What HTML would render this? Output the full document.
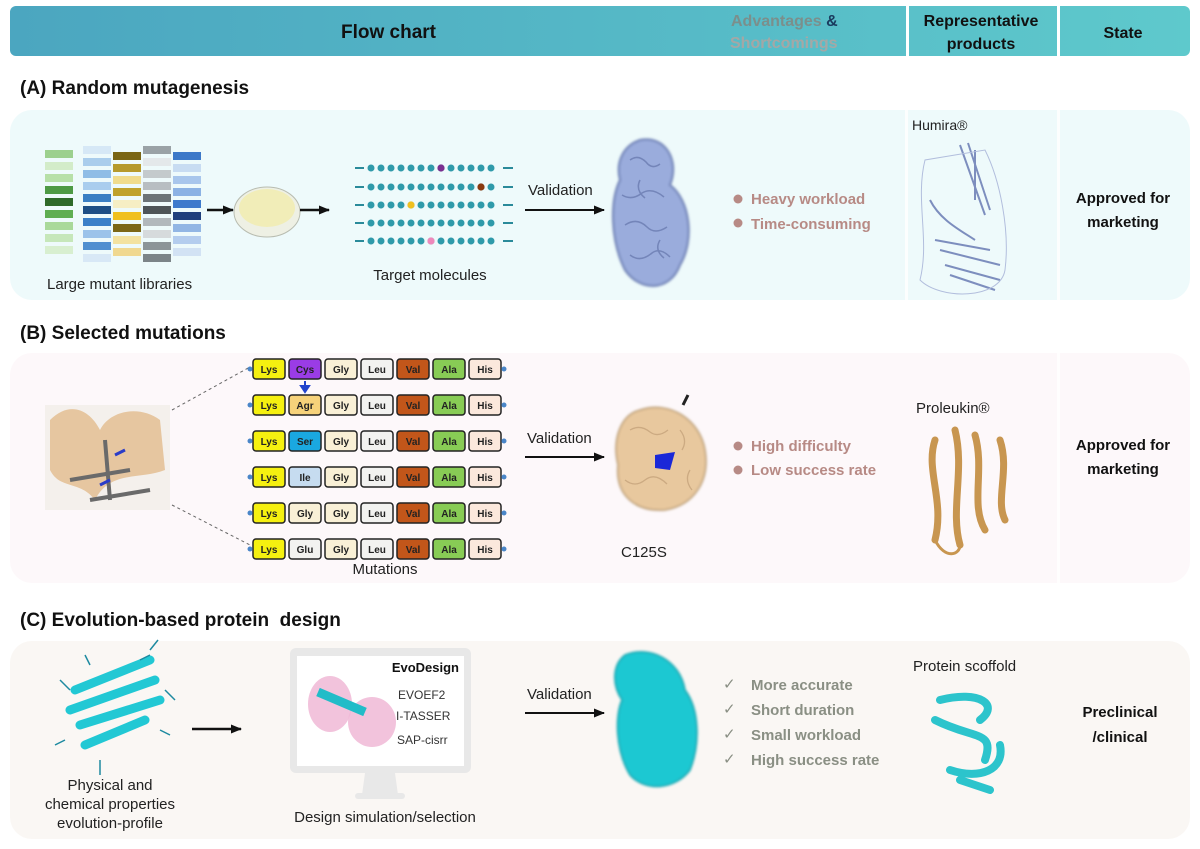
<!DOCTYPE html>
<html><head><meta charset="utf-8"><style>
html,body{margin:0;padding:0;background:#fff;width:1200px;height:849px;overflow:hidden}
svg text{font-family:"Liberation Sans",Arial,sans-serif}
</style></head><body>
<svg width="1200" height="849" viewBox="0 0 1200 849" xmlns="http://www.w3.org/2000/svg">
<defs>
<linearGradient id="hg" x1="0" x2="1"><stop offset="0" stop-color="#4ba6c0"/><stop offset="1" stop-color="#5ec9cc"/></linearGradient>
<filter id="bl"><feGaussianBlur stdDeviation="1.2"/></filter>
<marker id="ar" markerUnits="userSpaceOnUse" markerWidth="12" markerHeight="12" refX="10" refY="6" orient="auto"><path d="M0,1.5 L11,6 L0,10.5 z" fill="#111"/></marker>
<g id="dr" fill="#2f9aaa"><rect x="355" y="-1" width="9" height="2" fill="#2a8a9a"/><circle cx="371" cy="0" r="3.5"/><circle cx="381" cy="0" r="3.5"/><circle cx="391" cy="0" r="3.5"/><circle cx="401" cy="0" r="3.5"/><circle cx="411" cy="0" r="3.5"/><circle cx="421" cy="0" r="3.5"/><circle cx="431" cy="0" r="3.5"/><circle cx="441" cy="0" r="3.5"/><circle cx="451" cy="0" r="3.5"/><circle cx="461" cy="0" r="3.5"/><circle cx="471" cy="0" r="3.5"/><circle cx="481" cy="0" r="3.5"/><circle cx="491" cy="0" r="3.5"/><rect x="503" y="-1" width="10" height="2" fill="#2a8a9a"/></g>
<g id="sq" font-size="10" font-weight="bold" text-anchor="middle" stroke="#222" stroke-width="1.5">
<rect x="253" y="0" width="32" height="20" rx="3" fill="#f5f010"/>
<rect x="325" y="0" width="32" height="20" rx="3" fill="#f9f0d6"/>
<rect x="361" y="0" width="32" height="20" rx="3" fill="#f2f2f0"/>
<rect x="397" y="0" width="32" height="20" rx="3" fill="#c2561a"/>
<rect x="433" y="0" width="32" height="20" rx="3" fill="#88cc55"/>
<rect x="469" y="0" width="32" height="20" rx="3" fill="#fbe8dc"/>
<g stroke="none" fill="#222"><text x="269" y="14">Lys</text><text x="341" y="14">Gly</text><text x="377" y="14">Leu</text><text x="413" y="14">Val</text><text x="449" y="14">Ala</text><text x="485" y="14">His</text></g>
<circle cx="250" cy="10" r="2.5" fill="#4a86c8" stroke="none"/><circle cx="504" cy="10" r="2.5" fill="#4a86c8" stroke="none"/>
</g>
</defs>
<!-- header -->
<rect x="10" y="6" width="1180" height="50" rx="6" fill="url(#hg)"/>
<rect x="906" y="6" width="3" height="50" fill="#fff"/>
<rect x="1057" y="6" width="3" height="50" fill="#fff"/>
<text x="341" y="38" font-size="19" font-weight="bold" fill="#111">Flow chart</text>
<text x="731" y="26" font-size="16" font-weight="bold" fill="#7b8f8c">Advantages <tspan fill="#1a3b5e">&amp;</tspan></text>
<text x="730" y="48" font-size="16" font-weight="bold" fill="#d89a90" opacity="0.6">Shortcomings</text>
<text x="981" y="26" font-size="16" font-weight="bold" fill="#111" text-anchor="middle">Representative</text>
<text x="981" y="49" font-size="16" font-weight="bold" fill="#111" text-anchor="middle">products</text>
<text x="1123" y="38" font-size="16" font-weight="bold" fill="#111" text-anchor="middle">State</text>

<!-- Panel A -->
<text x="20" y="94" font-size="19" font-weight="bold" fill="#111">(A) Random mutagenesis</text>
<rect x="10" y="110" width="1180" height="190" rx="22" fill="#eefafb"/>
<rect x="905" y="110" width="3" height="190" fill="#fff" opacity="0.8"/>
<rect x="1057" y="110" width="3" height="190" fill="#fff" opacity="0.8"/>
<g>
<rect x="45" y="150" width="28" height="8" fill="#9cd08e"/><rect x="45" y="162" width="28" height="8" fill="#d3ecc9"/><rect x="45" y="174" width="28" height="8" fill="#b7e0a8"/><rect x="45" y="186" width="28" height="8" fill="#4e9a45"/><rect x="45" y="198" width="28" height="8" fill="#2f6a2a"/><rect x="45" y="210" width="28" height="8" fill="#5fae52"/><rect x="45" y="222" width="28" height="8" fill="#a9d99a"/><rect x="45" y="234" width="28" height="8" fill="#c6e7ba"/><rect x="45" y="246" width="28" height="8" fill="#d8efd0"/>
<rect x="83" y="146" width="28" height="8" fill="#d6e8f6"/><rect x="83" y="158" width="28" height="8" fill="#aacdec"/><rect x="83" y="170" width="28" height="8" fill="#8fbde6"/><rect x="83" y="182" width="28" height="8" fill="#a9cdee"/><rect x="83" y="194" width="28" height="8" fill="#3a7fc4"/><rect x="83" y="206" width="28" height="8" fill="#1d4f86"/><rect x="83" y="218" width="28" height="8" fill="#3b80c8"/><rect x="83" y="230" width="28" height="8" fill="#9bc3ea"/><rect x="83" y="242" width="28" height="8" fill="#4f8fd0"/><rect x="83" y="254" width="28" height="8" fill="#d8e8f6"/>
<rect x="113" y="152" width="28" height="8" fill="#7a6514"/><rect x="113" y="164" width="28" height="8" fill="#b69a2c"/><rect x="113" y="176" width="28" height="8" fill="#f0dc8c"/><rect x="113" y="188" width="28" height="8" fill="#c0a22c"/><rect x="113" y="200" width="28" height="8" fill="#f6eec4"/><rect x="113" y="212" width="28" height="8" fill="#f0c020"/><rect x="113" y="224" width="28" height="8" fill="#7c6716"/><rect x="113" y="236" width="28" height="8" fill="#f3e2a0"/><rect x="113" y="248" width="28" height="8" fill="#f0d890"/>
<rect x="143" y="146" width="28" height="8" fill="#9aa2a6"/><rect x="143" y="158" width="28" height="8" fill="#e4e8ea"/><rect x="143" y="170" width="28" height="8" fill="#c4cacc"/><rect x="143" y="182" width="28" height="8" fill="#b8bec2"/><rect x="143" y="194" width="28" height="8" fill="#6c7478"/><rect x="143" y="206" width="28" height="8" fill="#4e5558"/><rect x="143" y="218" width="28" height="8" fill="#b2b8bc"/><rect x="143" y="230" width="28" height="8" fill="#d6dadc"/><rect x="143" y="242" width="28" height="8" fill="#8c9498"/><rect x="143" y="254" width="28" height="8" fill="#7c8488"/>
<rect x="173" y="152" width="28" height="8" fill="#3c78c8"/><rect x="173" y="164" width="28" height="8" fill="#c8dcf2"/><rect x="173" y="176" width="28" height="8" fill="#a8c6ec"/><rect x="173" y="188" width="28" height="8" fill="#8cb2e4"/><rect x="173" y="200" width="28" height="8" fill="#3e7acc"/><rect x="173" y="212" width="28" height="8" fill="#1f3f7c"/><rect x="173" y="224" width="28" height="8" fill="#92b6e4"/><rect x="173" y="236" width="28" height="8" fill="#b4cdee"/><rect x="173" y="248" width="28" height="8" fill="#d2e2f4"/>
</g>
<text x="47" y="289" font-size="15" fill="#222">Large mutant libraries</text>
<line x1="207" y1="210" x2="233" y2="210" stroke="#111" stroke-width="2.5" marker-end="url(#ar)"/>
<ellipse cx="267" cy="212" rx="33" ry="25" fill="#eef0e4" stroke="#b8bcb0"/>
<ellipse cx="267" cy="208" rx="28" ry="19" fill="#f1edb8"/>
<line x1="300" y1="210" x2="329" y2="210" stroke="#111" stroke-width="2.5" marker-end="url(#ar)"/>
<use href="#dr" y="168"/><use href="#dr" y="187"/><use href="#dr" y="205"/><use href="#dr" y="223"/><use href="#dr" y="241"/>
<circle cx="441" cy="168" r="3.6" fill="#7a2f90"/><circle cx="481" cy="187" r="3.6" fill="#8a3a10"/><circle cx="411" cy="205" r="3.6" fill="#f0c020"/><circle cx="431" cy="241" r="3.6" fill="#ee88bb"/>
<text x="430" y="280" font-size="15" fill="#222" text-anchor="middle">Target molecules</text>
<text x="528" y="195" font-size="15" fill="#222">Validation</text>
<line x1="525" y1="210" x2="604" y2="210" stroke="#111" stroke-width="2" marker-end="url(#ar)"/>
<path d="M640,140 C665,135 680,160 670,185 C690,200 695,240 680,265 C670,292 640,292 625,270 C610,240 610,200 620,180 C615,160 625,145 640,140 Z" fill="#9aacdc" stroke="#6c7eb4" stroke-width="2" filter="url(#bl)"/>
<g stroke="#6a7cb0" stroke-width="1.5" fill="none" opacity="0.8">
<path d="M630,160 q8,-6 16,2 q6,8 14,2 M622,195 q10,6 20,-2 q10,-6 22,4 M625,225 q12,-8 22,2 q8,8 20,0 M630,255 q10,8 22,-2 q8,-6 18,4 M640,180 q-5,10 5,18 M660,240 q-6,10 4,18"/>
</g>
<circle cx="738" cy="199" r="4.5" fill="#b78a85"/><circle cx="738" cy="223" r="4.5" fill="#b78a85"/>
<text x="751" y="204" font-size="15" font-weight="bold" fill="#b78a85">Heavy workload</text>
<text x="751" y="229" font-size="15" font-weight="bold" fill="#b78a85">Time-consuming</text>
<text x="912" y="130" font-size="14" fill="#222">Humira®</text>
<g stroke="#6a7cb4" stroke-width="2" fill="none" opacity="0.85">
<path d="M960,145 L985,215 M968,143 L990,210 M975,150 L975,200 M930,200 C940,220 960,230 975,240 M935,240 L990,250 M945,265 L1000,280 M950,275 L995,290 M940,250 L1000,265"/>
<path d="M925,160 C915,200 930,240 920,280 C940,300 1000,300 1005,270 C1010,230 1000,180 985,150 Z" stroke="#a8b4d8" stroke-width="1"/>
</g>
<text x="1123" y="203" font-size="15" font-weight="bold" fill="#111" text-anchor="middle">Approved for</text>
<text x="1123" y="227" font-size="15" font-weight="bold" fill="#111" text-anchor="middle">marketing</text>

<!-- Panel B -->
<text x="20" y="339" font-size="19" font-weight="bold" fill="#111">(B) Selected mutations</text>
<rect x="10" y="353" width="1180" height="230" rx="22" fill="#fdf8fa"/>
<rect x="1057" y="353" width="3" height="230" fill="#fff" opacity="0.8"/>
<g>
<rect x="45" y="405" width="125" height="105" fill="#f4f0ec"/>
<path d="M50,420 C70,400 90,410 100,430 C110,410 140,405 160,420 L165,470 C140,480 110,470 95,500 C80,480 60,490 50,470 Z" fill="#e6c6a0"/>
<path d="M70,480 L130,470 M90,500 L150,490 M105,440 L110,500" stroke="#6a6a6a" stroke-width="4"/>
<path d="M115,455 L125,450 M100,485 L110,480" stroke="#2a3cc8" stroke-width="3"/>
</g>
<line x1="172" y1="410" x2="250" y2="367" stroke="#666" stroke-dasharray="3,3"/>
<line x1="172" y1="505" x2="250" y2="545" stroke="#666" stroke-dasharray="3,3"/>
<use href="#sq" y="359"/><use href="#sq" y="395"/><use href="#sq" y="431"/><use href="#sq" y="467"/><use href="#sq" y="503"/><use href="#sq" y="539"/>
<g font-size="10" font-weight="bold" text-anchor="middle" stroke="#222" stroke-width="1.5">
<rect x="289" y="359" width="32" height="20" rx="3" fill="#9a3ce6"/>
<rect x="289" y="395" width="32" height="20" rx="3" fill="#f6d27a"/>
<rect x="289" y="431" width="32" height="20" rx="3" fill="#1aa8e0"/>
<rect x="289" y="467" width="32" height="20" rx="3" fill="#c6dcf0"/>
<rect x="289" y="503" width="32" height="20" rx="3" fill="#f9f0d6"/>
<rect x="289" y="539" width="32" height="20" rx="3" fill="#f2f2f0"/>
<g stroke="none" fill="#222"><text x="305" y="373">Cys</text><text x="305" y="409">Agr</text><text x="305" y="445">Ser</text><text x="305" y="481">Ile</text><text x="305" y="517">Gly</text><text x="305" y="553">Glu</text></g>
</g>
<path d="M305,381 L305,388 M301,386 L305,392 L309,386 Z" stroke="#2244cc" stroke-width="2" fill="#2244cc"/>
<text x="385" y="574" font-size="15" fill="#222" text-anchor="middle">Mutations</text>
<text x="527" y="443" font-size="15" fill="#222">Validation</text>
<line x1="525" y1="457" x2="604" y2="457" stroke="#111" stroke-width="2" marker-end="url(#ar)"/>
<path d="M640,410 C670,400 700,420 705,450 C710,480 695,505 665,510 C635,512 615,495 618,465 C612,440 620,415 640,410 Z" fill="#e8c89e" stroke="#b89a70" stroke-width="1.5" filter="url(#bl)"/>
<g stroke="#c4a27a" stroke-width="1.3" fill="none" opacity="0.8">
<path d="M630,430 q10,-6 20,2 q8,6 18,-2 M625,480 q10,8 20,0 q10,-8 22,4 M680,430 q8,10 2,20 M690,470 q-6,10 2,20"/>
</g>
<path d="M655,455 L675,452 L670,470 L655,468 Z" fill="#1a28d8"/>
<path d="M683,405 L688,395" stroke="#222" stroke-width="3"/>
<text x="621" y="557" font-size="15" fill="#222">C125S</text>
<circle cx="738" cy="446" r="4.5" fill="#b78a85"/><circle cx="738" cy="470" r="4.5" fill="#b78a85"/>
<text x="751" y="451" font-size="15" font-weight="bold" fill="#b78a85">High difficulty</text>
<text x="751" y="475" font-size="15" font-weight="bold" fill="#b78a85">Low success rate</text>
<text x="916" y="413" font-size="15" fill="#222">Proleukin®</text>
<g stroke="#c89650" stroke-width="7" fill="none" stroke-linecap="round">
<path d="M935,440 C925,470 945,500 935,540 M955,430 C965,470 950,510 960,545 M975,435 C985,470 970,505 985,530 M1000,440 C1010,470 995,500 1005,520"/>
<path d="M935,540 C945,560 960,555 960,545" stroke-width="3"/>
</g>
<text x="1123" y="450" font-size="15" font-weight="bold" fill="#111" text-anchor="middle">Approved for</text>
<text x="1123" y="474" font-size="15" font-weight="bold" fill="#111" text-anchor="middle">marketing</text>

<!-- Panel C -->
<text x="20" y="626" font-size="19" font-weight="bold" fill="#111" xml:space="preserve">(C) Evolution-based protein  design</text>
<rect x="10" y="641" width="1180" height="198" rx="22" fill="#faf7f4"/>
<g stroke="#22c8d4" stroke-width="9" fill="none" stroke-linecap="round">
<path d="M75,690 L150,660 M70,710 L155,680 M80,725 L160,700 M85,745 L145,720"/>
</g>
<g stroke="#1e8aa0" stroke-width="1.5" fill="none">
<path d="M60,680 L70,690 M150,650 L158,640 M165,690 L175,700 M65,740 L55,745 M100,760 L100,775 M140,660 L150,655 M90,665 L85,655 M160,730 L170,735"/>
</g>
<text x="110" y="790" font-size="15" fill="#222" text-anchor="middle">Physical and</text>
<text x="110" y="809" font-size="15" fill="#222" text-anchor="middle">chemical properties</text>
<text x="110" y="828" font-size="15" fill="#222" text-anchor="middle">evolution-profile</text>
<line x1="192" y1="729" x2="241" y2="729" stroke="#111" stroke-width="2.5" marker-end="url(#ar)"/>
<rect x="290" y="648" width="181" height="125" rx="6" fill="#e8e8e8"/>
<rect x="297" y="656" width="167" height="110" fill="#fff"/>
<path d="M365,773 L395,773 L398,795 L362,795 Z" fill="#e8e8e8"/>
<rect x="355" y="793" width="50" height="6" rx="3" fill="#e8e8e8"/>
<ellipse cx="330" cy="704" rx="22" ry="28" fill="#f0b8d6" opacity="0.85"/>
<ellipse cx="372" cy="722" rx="24" ry="25" fill="#f0b8d6" opacity="0.85"/>
<path d="M318,692 L365,712" stroke="#22bcc8" stroke-width="9"/>
<text x="459" y="672" font-size="13" font-weight="bold" fill="#111" text-anchor="end">EvoDesign</text>
<text x="398" y="699" font-size="12" fill="#333">EVOEF2</text>
<text x="396" y="720" font-size="12" fill="#333">I-TASSER</text>
<text x="397" y="744" font-size="12" fill="#333">SAP-cisrr</text>
<text x="385" y="822" font-size="15" fill="#222" text-anchor="middle">Design simulation/selection</text>
<text x="527" y="699" font-size="15" fill="#222">Validation</text>
<line x1="525" y1="713" x2="604" y2="713" stroke="#111" stroke-width="2" marker-end="url(#ar)"/>
<path d="M625,655 C650,645 680,660 685,690 C700,710 700,745 690,770 C675,790 645,792 630,775 C615,750 615,715 622,700 C612,685 612,665 625,655 Z" fill="#1ec8d2" stroke="#10a0ac" stroke-width="1.5" filter="url(#bl)"/>
<g font-size="15" font-weight="bold" fill="#8a8f84">
<text x="723" y="689" font-weight="normal">✓</text><text x="751" y="690">More accurate</text>
<text x="723" y="714" font-weight="normal">✓</text><text x="751" y="715">Short duration</text>
<text x="723" y="739" font-weight="normal">✓</text><text x="751" y="740">Small workload</text>
<text x="723" y="764" font-weight="normal">✓</text><text x="751" y="765">High success rate</text>
</g>
<text x="913" y="671" font-size="15" fill="#222">Protein scoffold</text>
<g stroke="#2cc4cc" stroke-width="8" fill="none" stroke-linecap="round">
<path d="M940,700 C980,690 1000,705 980,720 M935,720 C975,740 995,730 985,760 M950,770 C980,780 1005,770 1000,745 M960,780 L990,790"/>
</g>
<text x="1120" y="717" font-size="15" font-weight="bold" fill="#111" text-anchor="middle">Preclinical</text>
<text x="1120" y="742" font-size="15" font-weight="bold" fill="#111" text-anchor="middle">/clinical</text>
</svg>
</body></html>
